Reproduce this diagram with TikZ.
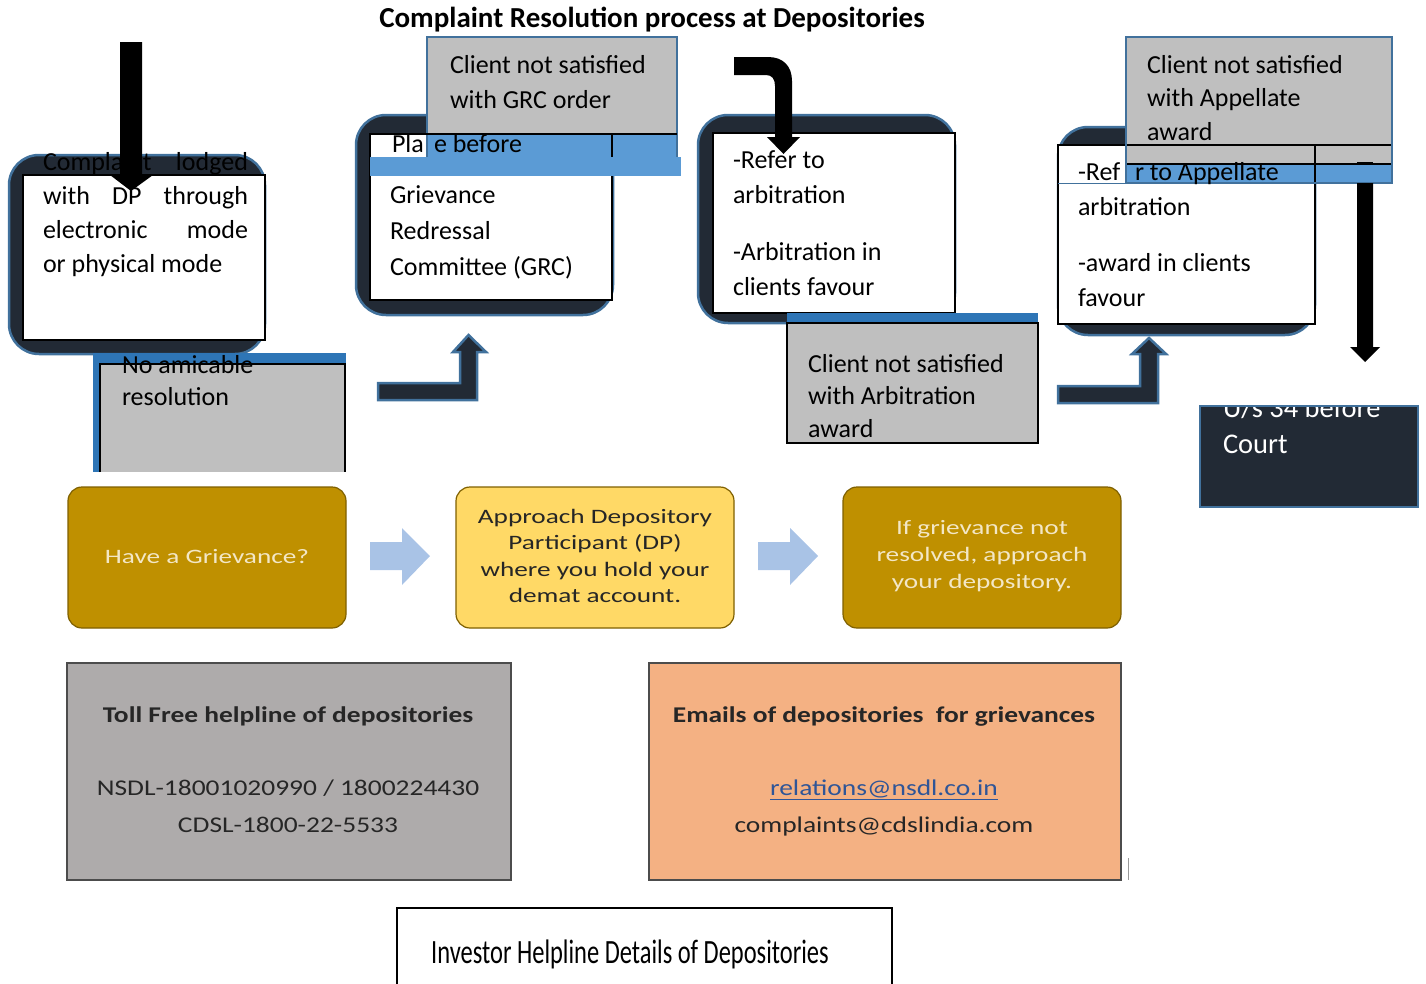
\documentclass[tikz,border=0pt]{standalone}
\usepackage{fontspec}
\setmainfont{Carlito}
\newfontfamily\rowfont[FakeStretch=1.33]{Carlito}
\newfontfamily\infofont[FakeStretch=1.22]{Carlito}
\newfontfamily\condfont[FakeStretch=0.72]{Carlito}
\definecolor{navy}{HTML}{222A35}
\definecolor{edge}{HTML}{41719C}
\definecolor{greyfill}{HTML}{BFBFBF}
\definecolor{bluefill}{HTML}{5B9BD5}
\definecolor{bluestrip}{HTML}{2E75B6}
\definecolor{gold}{HTML}{BF9000}
\definecolor{goldedge}{HTML}{7F6000}
\definecolor{lightgold}{HTML}{FFD966}
\definecolor{goldtext}{HTML}{F3E7C6}
\definecolor{arrowblue}{HTML}{A9C3E6}
\definecolor{infogray}{HTML}{AEABAB}
\definecolor{orangefill}{HTML}{F4B183}
\definecolor{linkblue}{HTML}{2F5597}
\definecolor{textdark}{HTML}{262626}
\newcommand\mlines[2]{\parbox[t]{#1}{\raggedright #2}}
\begin{document}
\begin{tikzpicture}[x=1pt,y=-1pt,
  darkbox/.style={fill=navy, draw=edge, line width=2.5pt, rounded corners=30pt},
  wbox/.style={fill=white, draw=black, line width=1.3pt},
  edgeline/.style={draw=edge, line width=2pt},
  blk/.style={draw=black, line width=1.3pt},
  blockarrow/.style={fill=navy, draw=edge, line width=2.5pt, line join=miter},
  t/.style={anchor=base west, inner sep=0pt, outer sep=0pt},
  fs/.style={font=\fontsize{26}{#1}\selectfont},
  rowbox/.style={draw=goldedge, line width=1.2pt, rounded corners=14pt},
  rowtext/.style={align=center, inner sep=0pt, font=\rowfont\fontsize{20.5}{26.6}\selectfont},
  lightarrow/.style={fill=arrowblue, draw=none},
  infobox/.style={draw=black!70, line width=1.2pt},
  infotext/.style={anchor=base, inner sep=0pt, font=\infofont\fontsize{22.5}{27}\selectfont, text=textdark}
]
\useasboundingbox (0,0) rectangle (1426,983);

% title
\node[anchor=base, inner sep=0pt, font=\fontsize{29}{32}\selectfont\bfseries] (title) at (652,27) {Complaint Resolution process at Depositories};

% ---------- box 1
\draw[darkbox] (9,155) rectangle (265,354);
\draw[wbox] (23,175) rectangle (265,340);
\node[t, fs=34.3] (complaint) at (43,170) {\mlines{205pt}{\makebox[205pt][s]{Complaint lodged}\\\makebox[205pt][s]{with DP through}\\\makebox[205pt][s]{electronic mode}\\or physical mode}};
\fill[black] (120,42) -- (142,42) -- (142,175) -- (153,175) -- (131,191) -- (110,175) -- (120,175) -- cycle;

% no amicable
\fill[bluestrip] (93,353) rectangle (346,472);
\fill[greyfill] (100,364) rectangle (345,472);
\draw[blk] (100,472) -- (100,364) -- (345,364) -- (345,472);
\node[t, fs=32] (noamic) at (122,373) {\mlines{220pt}{No amicable\\resolution}};

% ---------- box 2
\draw[darkbox] (356,115) rectangle (613,315);
\draw[wbox] (370,134) rectangle (612,300);
\node[t, fs=36] (grc) at (390,203) {\mlines{220pt}{Grievance\\Redressal\\Committee (GRC)}};
\node[t, fs=34] (pla) at (392,152) {Pla};
\fill[greyfill] (427,37) rectangle (677,134);
\fill[bluefill] (427,134) rectangle (677,157);
\draw[edgeline] (427,157) -- (427,37) -- (677,37) -- (677,157);
\draw[blk] (370,134) -- (677,134);
\draw[blk] (612,134) -- (612,157);
\fill[bluefill] (370,157) rectangle (681,176);
\node[t, fs=34] (ebefore) at (434,152) {e before};
\node[t, fs=35] (grcorder) at (450,73) {\mlines{220pt}{Client not satisfied\\with GRC order}};
\draw[blockarrow] (378,383) -- (460,383) -- (460,352) -- (453,352) -- (468.5,335) -- (486,352) -- (477,352) -- (477,400) -- (378,400) -- cycle;

% ---------- box 3
\draw[darkbox] (698,115) rectangle (955,323);
\draw[wbox] (713,133) rectangle (955,313);
\node[t, fs=35] (refer) at (733,168) {\mlines{220pt}{-Refer to\\arbitration}};
\node[t, fs=35] (favour) at (733,260) {\mlines{220pt}{-Arbitration in\\clients favour}};
\fill[black] (734,57) -- (768,57) .. controls (783,57) and (792,66) .. (792,81) -- (792,137) -- (800,137) -- (783.5,154) -- (767,137) -- (775,137) -- (775,86) .. controls (775,79) and (772,75) .. (766,75) -- (734,75) -- cycle;
\fill[bluestrip] (787,313) rectangle (1038,323);
\draw[blk, fill=greyfill] (787,323) rectangle (1038,443);
\node[t, fs=32.5] (arbaward) at (808,372) {\mlines{225pt}{Client not satisfied\\with Arbitration\\award}};
\draw[blockarrow] (1058,386) -- (1140,386) -- (1140,354) -- (1132,354) -- (1149,338) -- (1166,354) -- (1158,354) -- (1158,403) -- (1058,403) -- cycle;

% ---------- box 4
\draw[darkbox] (1058,127) rectangle (1315,335);
\draw[wbox] (1058,145) rectangle (1315,324);
\node[t, fs=35] (ref) at (1078,180) {-Ref};
\node[t, fs=35] (arb4) at (1078,215) {arbitration};
\node[t, fs=35] (award4) at (1078,271) {\mlines{230pt}{-award in clients\\favour}};
\fill[greyfill] (1126,37) rectangle (1392,164);
\fill[bluefill] (1126,164) rectangle (1392,183);
\draw[blk] (1126,145) -- (1392,145);
\draw[blk] (1126,164) -- (1392,164);
\draw[blk] (1315,145) -- (1315,183);
\draw[edgeline] (1126,37) rectangle (1392,183);
\draw[draw=edge, line width=1pt] (1058,183) -- (1126,183);
\node[t, fs=35] (appellate) at (1135,180) {r to Appellate};
\node[t, fs=33.5] (appaward) at (1147,73) {\mlines{230pt}{Client not satisfied\\with Appellate\\award}};
\fill[black] (1357,162) rectangle (1373,165);
\fill[black] (1357,183) -- (1373,183) -- (1373,347) -- (1380,347) -- (1365,362) -- (1350,347) -- (1357,347) -- cycle;

% court box
\draw[fill=navy, draw=edge, line width=2pt] (1200,406) rectangle (1418,507);
\begin{scope}
\clip (1201,407) rectangle (1417,506);
\node[t, font=\fontsize{28.5}{36}\selectfont, text=white] (court) at (1223,417) {\mlines{190pt}{U/s 34 before\\Court}};
\end{scope}

% ---------- bottom row
\draw[rowbox, fill=gold] (68,487) rectangle (346,628);
\draw[rowbox, fill=lightgold] (456,487) rectangle (734,628);
\draw[rowbox, fill=gold] (843,487) rectangle (1121,628);
\node[rowtext, text=goldtext] (have) at (207,557) {Have a Grievance?};
\node[rowtext, text=textdark] (approach) at (595,556) {Approach Depository\\Participant (DP)\\where you hold your\\demat account.};
\node[rowtext, text=goldtext] (notres) at (982,556) {If grievance not\\resolved, approach\\your depository.};
\fill[lightarrow] (370,542) -- (402,542) -- (402,528) -- (430,556) -- (402,585) -- (402,570) -- (370,570) -- cycle;
\fill[lightarrow] (758,542) -- (790,542) -- (790,528) -- (818,556) -- (790,585) -- (790,570) -- (758,570) -- cycle;

% ---------- info boxes
\draw[infobox, fill=infogray] (67,663) rectangle (511,880);
\node[infotext, font=\infofont\bfseries\fontsize{22.5}{27}\selectfont] (tollhead) at (288,722) {Toll Free helpline of depositories};
\node[infotext] (nsdl) at (288,795) {NSDL-18001020990 / 1800224430};
\node[infotext] (cdsl) at (288,832) {CDSL-1800-22-5533};

\draw[infobox, fill=orangefill] (649,663) rectangle (1121,880);
\node[infotext, font=\infofont\bfseries\fontsize{22.5}{27}\selectfont] (emailhead) at (884,722) {Emails of depositories\ \ for grievances};
\node[infotext, text=linkblue] (nsdlmail) at (884,795) {\underline{relations@nsdl.co.in}};
\node[infotext] (cdslmail) at (884,832) {complaints@cdslindia.com};
\draw[black!40, line width=1pt] (1128,858) -- (1128,880);

\draw[black, line width=1.5pt] (397,990) -- (397,908) -- (892,908) -- (892,990);
\node[anchor=base, inner sep=0pt, font=\condfont\fontsize{34}{40}\selectfont, text=black] (investor) at (630,963) {Investor Helpline Details of Depositories};
\end{tikzpicture}
\end{document}
